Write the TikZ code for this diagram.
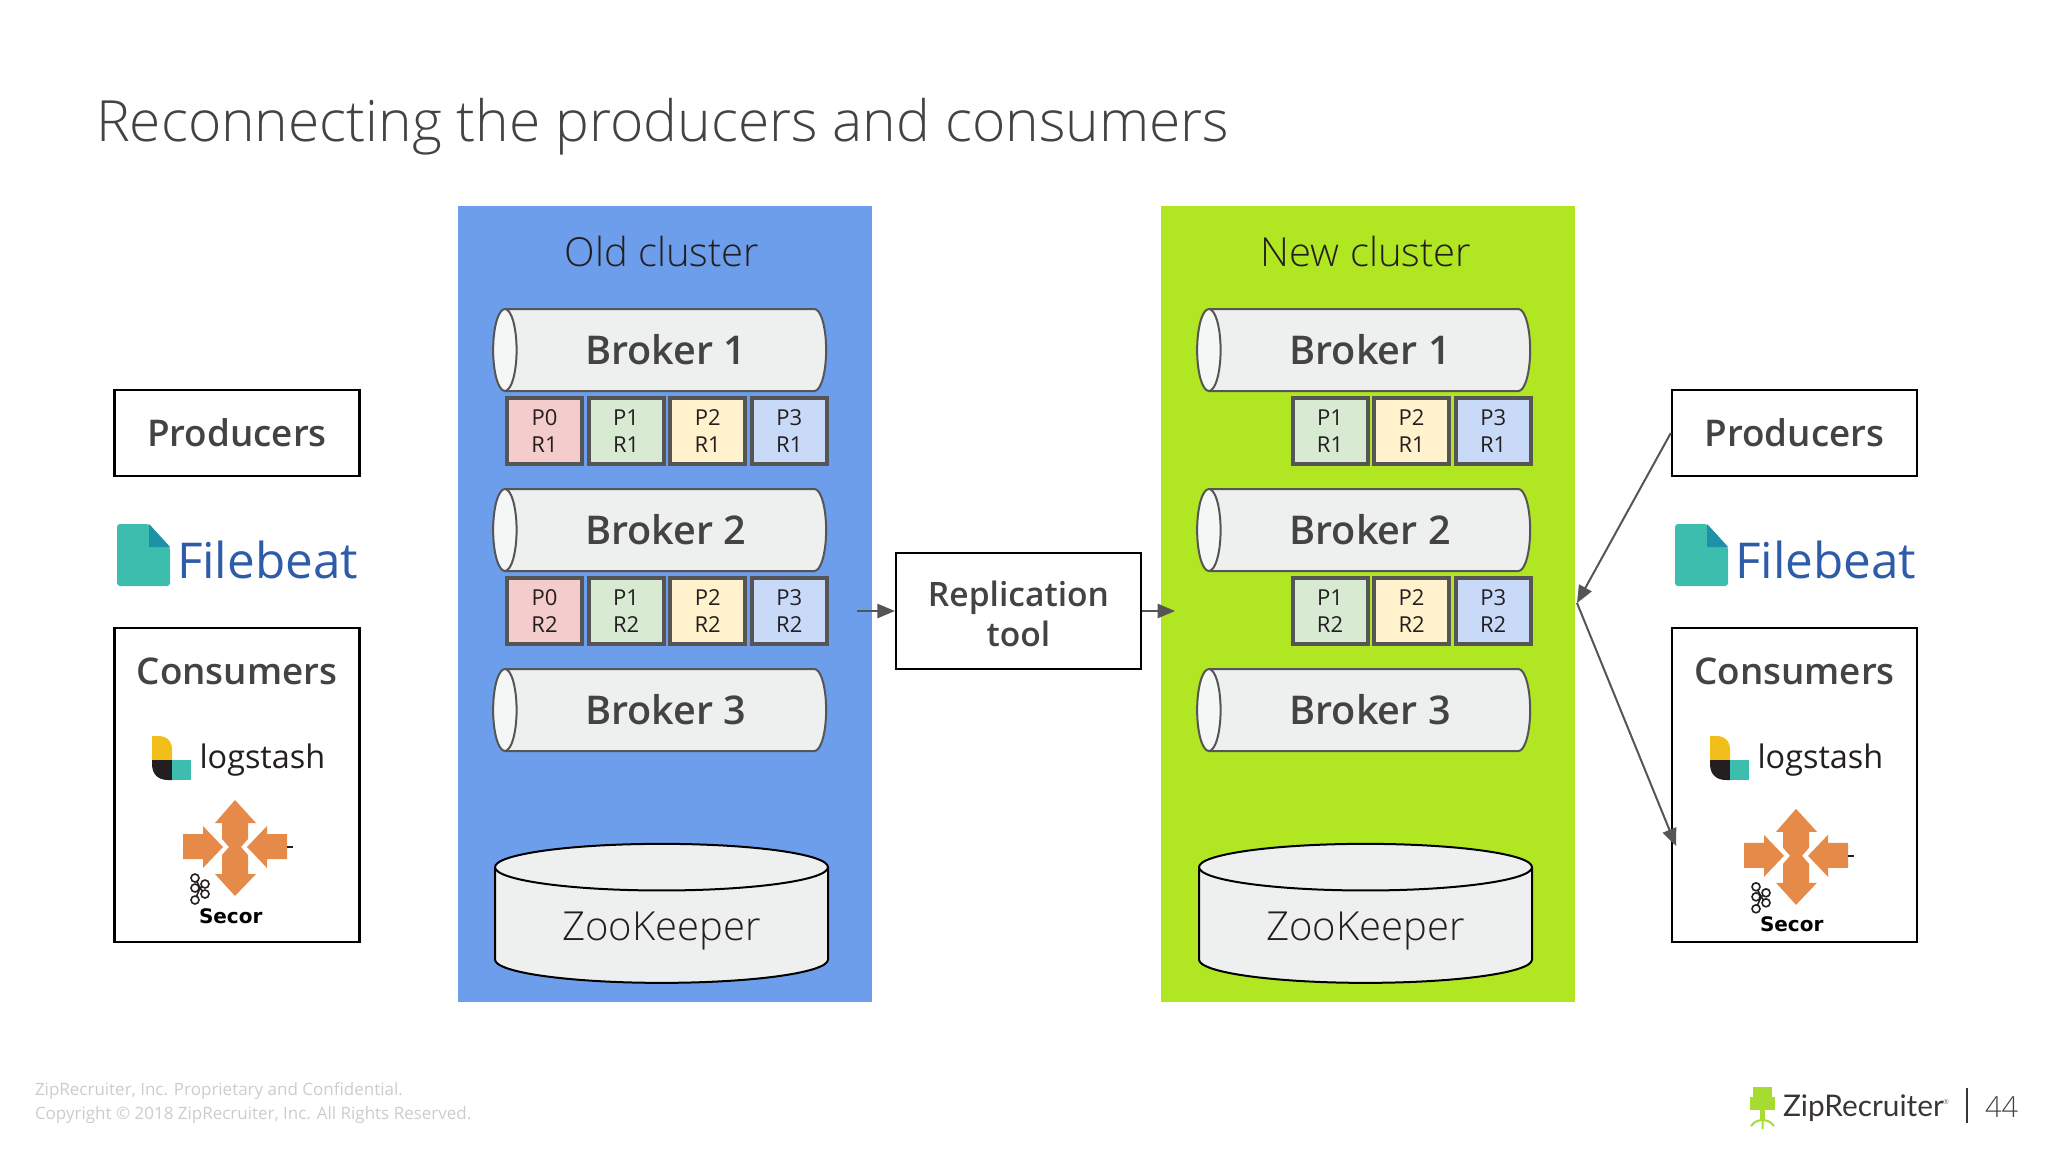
\documentclass[tikz,border=0pt]{standalone}
\usepackage{fontspec}
\setmainfont{Open Sans}
\newfontfamily\lightfont{Open Sans Light}
\newfontfamily\semifont{Open Sans Semibold}
\newfontfamily\logofont{Lato}
\newfontfamily\secorfont{DejaVu Sans}
\usepackage{tikz}
\usetikzlibrary{arrows, shapes}
\definecolor{oldBlue}{HTML}{6D9EEB}
\definecolor{newGreen}{HTML}{B1E623}
\definecolor{inkGrey}{HTML}{434343}
\definecolor{lineGrey}{HTML}{555555}
\definecolor{brokerFill}{HTML}{EEF0F0}
\definecolor{p0Fill}{HTML}{F4CCCC}
\definecolor{p1Fill}{HTML}{D9EAD3}
\definecolor{p2Fill}{HTML}{FFF2CC}
\definecolor{p3Fill}{HTML}{C9DAF8}
\definecolor{beatTeal}{HTML}{3DBDAE}
\definecolor{beatDark}{HTML}{1E90A8}
\definecolor{beatBlue}{HTML}{2F5CA8}
\definecolor{stashYellow}{HTML}{F2BE1A}
\definecolor{stashBlack}{HTML}{231F20}
\definecolor{secorOrange}{HTML}{E68A4A}
\definecolor{chairGreen}{HTML}{A6DB30}
\tikzstyle{arrow} = [->,color=lineGrey,line width=1pt,>=triangle 45]
\tikzstyle{cluster} = [rectangle, inner sep=0, minimum width=207pt, minimum height=398pt]
\tikzstyle{clusterTitle} = [text=stashBlack, font=\lightfont\fontsize{20}{24}\selectfont]
\tikzstyle{broker} = [cylinder, shape border rotate=180, shape aspect=0.77, draw=lineGrey, line width=1pt, minimum width=41pt, minimum height=166.5pt, inner sep=0, outer sep=0, cylinder uses custom fill, cylinder body fill=brokerFill, cylinder end fill=brokerFill!60!white, text=inkGrey, font=\semifont\fontsize{19.8}{23}\selectfont, node distance=90pt]
\tikzstyle{partition} = [draw=lineGrey, line width=2pt, minimum width=37.5pt, minimum height=33pt, inner sep=0, align=center, text=stashBlack, font=\fontsize{11}{13.5}\selectfont, node distance=40.8pt]
\tikzstyle{keeper} = [cylinder, shape border rotate=90, shape aspect=0.235, draw=black, line width=1pt, minimum width=166.5pt, minimum height=69.5pt, inner sep=0, outer sep=0, fill=brokerFill, text=stashBlack, text height=15pt, text depth=0.4pt, font=\lightfont\fontsize{20}{24}\selectfont]
\tikzstyle{box} = [draw=black, line width=1.2pt, fill=white, minimum width=122.5pt, inner sep=0, align=center, text=inkGrey, font=\semifont\fontsize{18.4}{20}\selectfont]
\tikzstyle{plain} = [inner sep=0, outer sep=0]
\newcommand{\filebeatlogo}[2]{\begin{scope}[xshift=#1pt]
  \fill [beatTeal, rounded corners=1.5pt] (117,524) -- (149,524) -- (170,547) -- (170,586) -- (117,586) -- cycle;
  \fill [beatDark] (149,524) -- (170,547) -- (149,547) -- cycle;
  \node [plain, anchor=base west, text=beatBlue, font=\fontsize{24.7}{28}\selectfont] (filebeat#2) at (177,578) {Filebeat};
\end{scope}}
\newcommand{\logstashlogo}[2]{\begin{scope}[xshift=#1pt]
  \fill [stashYellow] (152,760) -- (152,736) -- (158,736) .. controls (167,736) and (172,741) .. (172,750) -- (172,760) -- cycle;
  \fill [stashBlack] (152,760) -- (172,760) -- (172,780) -- (168,780) .. controls (158,780) and (152,774) .. (152,764) -- cycle;
  \fill [beatTeal] (172,760) rectangle (191,780);
  \node [plain, anchor=base west, text=stashBlack, font=\fontsize{16.2}{20}\selectfont] (logstash#2) at (199.5,768) {logstash};
\end{scope}}
\newcommand{\secorlogo}[3]{\begin{scope}[xshift=#1pt, yshift=-#2pt]
  \fill [secorOrange] (235,800) -- (256,823) -- (248,823) -- (248,839) -- (241,847) -- (229,847) -- (222,839) -- (222,823) -- (215,823) -- cycle;
  \fill [secorOrange] (235,896) -- (256,874) -- (248,874) -- (248,855) -- (241,847) -- (229,847) -- (222,855) -- (222,874) -- (215,874) -- cycle;
  \fill [secorOrange] (183,834) -- (203,834) -- (203,826) -- (223,847) -- (203,868) -- (203,859) -- (183,859) -- cycle;
  \fill [secorOrange] (287,834) -- (267,834) -- (267,826) -- (247,847) -- (267,868) -- (267,859) -- (287,859) -- cycle;
  \fill [stashBlack] (287,846) rectangle (293,848);
  \draw [stashBlack, line width=0.8pt] (195,878) -- (200,888) -- (205,884) (200,888) -- (195,888) (200,888) -- (205,894) (200,888) -- (195,900);
  \foreach \cx/\cy in {195/878, 205/884, 195/888, 205/894, 195/900}
    \draw [stashBlack, fill=white, line width=0.8pt] (\cx,\cy) circle (2pt);
  \node [plain, anchor=base west, text=black, font=\secorfont\bfseries\fontsize{10}{11}\selectfont] (secor#3) at (199,923) {Secor};
\end{scope}}

\begin{document}
\begin{tikzpicture}[x=0.5pt, y=-0.5pt, auto]
        \useasboundingbox (0,0) rectangle (2048,1152);

        \node [plain, anchor=base west, text=inkGrey, font=\lightfont\fontsize{28.45}{34}\selectfont] (title) at (96,141.5) {Reconnecting the producers and consumers};

        \node [cluster, fill=oldBlue] (oldCluster) at (664.5,604) {};
        \node [cluster, fill=newGreen] (newCluster) at (1368,604) {};
        \node [clusterTitle] (oldTitle) at (662,251) {Old cluster};
        \node [clusterTitle] (newTitle) at (1366,251) {New cluster};

        \node [broker] (oldBroker1) at (666,350) {Broker 1};
        \node [broker, below of=oldBroker1] (oldBroker2) {Broker 2};
        \node [broker, below of=oldBroker2] (oldBroker3) {Broker 3};
        \node [partition, fill=p0Fill] (oldP0R1) at (544.5,431) {P0\\R1};
        \node [partition, fill=p1Fill, right of=oldP0R1] (oldP1R1) {P1\\R1};
        \node [partition, fill=p2Fill, right of=oldP1R1] (oldP2R1) {P2\\R1};
        \node [partition, fill=p3Fill, right of=oldP2R1] (oldP3R1) {P3\\R1};
        \node [partition, fill=p0Fill] (oldP0R2) at (544.5,611) {P0\\R2};
        \node [partition, fill=p1Fill, right of=oldP0R2] (oldP1R2) {P1\\R2};
        \node [partition, fill=p2Fill, right of=oldP1R2] (oldP2R2) {P2\\R2};
        \node [partition, fill=p3Fill, right of=oldP2R2] (oldP3R2) {P3\\R2};
        \node [keeper] (oldKeeper) at (661.5,925.5) {ZooKeeper};

        \node [broker] (newBroker1) at (1370,350) {Broker 1};
        \node [broker, below of=newBroker1] (newBroker2) {Broker 2};
        \node [broker, below of=newBroker2] (newBroker3) {Broker 3};
        \node [partition, fill=p1Fill] (newP1R1) at (1330,431) {P1\\R1};
        \node [partition, fill=p2Fill, right of=newP1R1] (newP2R1) {P2\\R1};
        \node [partition, fill=p3Fill, right of=newP2R1] (newP3R1) {P3\\R1};
        \node [partition, fill=p1Fill] (newP1R2) at (1330,611) {P1\\R2};
        \node [partition, fill=p2Fill, right of=newP1R2] (newP2R2) {P2\\R2};
        \node [partition, fill=p3Fill, right of=newP2R2] (newP3R2) {P3\\R2};
        \node [keeper] (newKeeper) at (1365.5,925.5) {ZooKeeper};

        \node [box, minimum height=58pt] (replication) at (1018.5,611) {};
        \node [plain, align=center, text=inkGrey, font=\semifont\fontsize{16.8}{20.2}\selectfont] (replicationText) at (1018.5,614) {Replication\\tool};

        \node [box, minimum height=43pt] (producersL) at (237,433) {Producers};
        \node [box, minimum height=157pt] (consumersL) at (237,785) {};
        \node [plain, text=inkGrey, font=\semifont\fontsize{18.4}{20}\selectfont] (consumersTextL) at (237,671) {Consumers};
        \node [box, minimum height=43pt] (producersR) at (1794.5,433) {Producers};
        \node [box, minimum height=157pt] (consumersR) at (1794.5,785) {};
        \node [plain, text=inkGrey, font=\semifont\fontsize{18.4}{20}\selectfont] (consumersTextR) at (1794.5,671) {Consumers};

        \filebeatlogo{0}{L}
        \filebeatlogo{779}{R}
        \logstashlogo{0}{L}
        \logstashlogo{779}{R}
        \secorlogo{0}{0}{L}
        \secorlogo{780.5}{4.4}{R}

        \coordinate (oldOut) at (857,611);
        \coordinate (newIn) at (1175,611);
        \coordinate (newEdge) at (1577,603);
        \coordinate (secorIn) at (1676,846);
        \path [arrow] (oldOut) edge (replication);
        \path [arrow] (replication) edge (newIn);
        \path [arrow] (producersR.west) edge (newEdge);
        \path [arrow] (newEdge) edge (secorIn);

        \node [plain, anchor=base west, text=black!20, align=left, font=\fontsize{8.5}{11.8}\selectfont] (footer) at (35,1119) {ZipRecruiter, Inc. Proprietary and Confidential.\\Copyright © 2018 ZipRecruiter, Inc. All Rights Reserved.};

        \fill [chairGreen] (1753,1087) rectangle (1772,1110);
        \fill [chairGreen] (1750,1097) rectangle (1754,1110);
        \fill [chairGreen] (1771,1097) rectangle (1775,1110);
        \fill [chairGreen] (1760,1110) rectangle (1765,1121);
        \draw [chairGreen, line width=1pt] (1751,1126) to [bend left=25] (1762.5,1120) to [bend left=25] (1774,1126) (1762.5,1120) -- (1762.5,1129);
        \node [plain, anchor=base west, text=stashBlack!90, font=\logofont\fontsize{14.9}{18}\selectfont] (zipRecruiter) at (1783,1116) {ZipRecruiter};
        \node [plain, anchor=base west, text=stashBlack!60, font=\fontsize{3.5}{4}\selectfont] (zipMark) at (1943,1104) {®};
        \coordinate (barTop) at (1967,1088);
        \coordinate (barBottom) at (1967,1123);
        \draw [stashBlack!90, line width=0.8pt] (barTop) -- (barBottom);
        \node [plain, anchor=base west, text=inkGrey, font=\lightfont\fontsize{14.5}{17}\selectfont] (pageNumber) at (1985,1117) {44};
\end{tikzpicture}
\end{document}
